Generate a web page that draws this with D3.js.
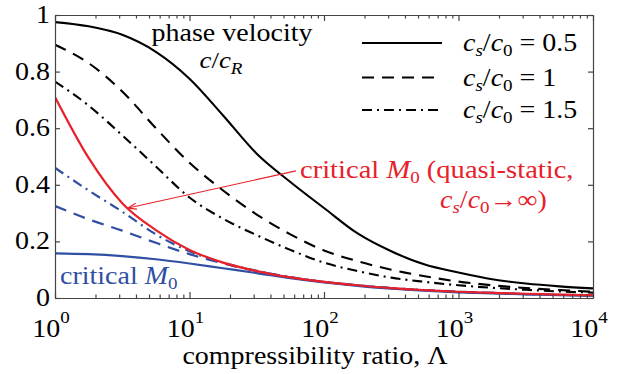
<!DOCTYPE html>
<html><head><meta charset="utf-8">
<script src="https://cdn.jsdelivr.net/npm/d3@7"></script>
<style>body{margin:0;background:#fff}svg{display:block}</style>
</head><body><svg id="c" width="620" height="374"></svg>
<script>
// ---- data ----
const lambda = [1,1.778,3.162,5.623,10,17.78,31.62,56.23,100,177.8,316.2,562.3,1000,1778,3162,5623,10000];
const phaseCs05 = [0.975,0.96,0.93,0.87,0.775,0.645,0.51,0.41,0.318,0.228,0.165,0.118,0.09,0.066,0.051,0.041,0.034];
const phaseCs1  = [0.895,0.83,0.73,0.60,0.478,0.38,0.295,0.225,0.168,0.13,0.10,0.077,0.058,0.045,0.035,0.028,0.022];
const phaseCs15 = [0.765,0.68,0.575,0.465,0.355,0.28,0.222,0.17,0.125,0.095,0.072,0.057,0.045,0.036,0.029,0.023,0.019];
const critQuasiStatic = [0.71,0.495,0.335,0.24,0.17,0.125,0.095,0.073,0.057,0.045,0.035,0.028,0.022,0.018,0.015,0.012,0.01];
const critCs05 = [0.158,0.155,0.148,0.137,0.122,0.105,0.088,0.07,0.055,0.043,0.033,0.026,0.02,0.016,0.013,0.01,0.008];
const critCs1  = [0.325,0.278,0.238,0.195,0.155,0.122,0.095,0.073,0.057,0.045,0.035,0.028,0.022,0.018,0.014,0.011,0.009];
const critCs15 = [0.46,0.38,0.305,0.225,0.165,0.125,0.096,0.074,0.057,0.045,0.035,0.028,0.022,0.018,0.014,0.011,0.009];
const xTicks = [1,10,100,1000,10000];
const xTickExp = ["0","1","2","3","4"];
const yTicks = [0,0.2,0.4,0.6,0.8,1];
const yTickLabels = ["0","0.2","0.4","0.6","0.8","1"];
const legendLabels = ["0.5","1","1.5"];
const arrowFrom = [61.8,0.449];
const arrowTo = [3.49,0.318];

// ---- layout ----
const W=620,H=374, L=55,R=593,T=15,B=298;
const FONT="'Liberation Serif','Times New Roman',serif";
const SX=1.12;
const RED="#e8202a", BLUE="#2f4fa3";
const DASH="12,8", DASHDOT="10,5,2,5";

const svg=d3.select("#c");
const x=d3.scaleLog().domain([1,1e4]).range([L,R]);
const y=d3.scaleLinear().domain([0,1]).range([B,T]);

svg.append("defs").append("clipPath").attr("id","clip")
  .append("rect").attr("x",L).attr("y",T).attr("width",R-L).attr("height",B-T);

const series=[
  {v:critCs05,c:BLUE,d:null,w:2.2},
  {v:critCs1,c:BLUE,d:DASH,w:2.2},
  {v:critCs15,c:BLUE,d:DASHDOT,w:2.2},
  {v:critQuasiStatic,c:RED,d:null,w:2.2},
  {v:phaseCs05,c:"#000",d:null,w:2.1},
  {v:phaseCs1,c:"#000",d:DASH,w:2.1},
  {v:phaseCs15,c:"#000",d:DASHDOT,w:2.1},
];
const line=d3.line().x((d,i)=>x(lambda[i])).y(d=>y(d)).curve(d3.curveMonotoneX);
const g=svg.append("g").attr("clip-path","url(#clip)");
series.forEach(s=>{
  g.append("path").attr("d",line(s.v)).attr("fill","none")
   .attr("stroke",s.c).attr("stroke-width",s.w)
   .attr("stroke-dasharray",s.d);
});

// axes frame and ticks
const axCol="#444";
const minors=[];
for(let e=0;e<4;e++)for(let k=2;k<10;k++)minors.push(k*Math.pow(10,e));
svg.append("g").attr("transform",`translate(0,${B})`)
  .call(d3.axisBottom(x).tickValues(xTicks).tickSizeInner(-6).tickSizeOuter(0).tickFormat(""));
svg.append("g").attr("transform",`translate(0,${B})`)
  .call(d3.axisBottom(x).tickValues(minors).tickSizeInner(-3.5).tickSizeOuter(0).tickFormat(""));
svg.append("g").attr("transform",`translate(0,${T})`)
  .call(d3.axisTop(x).tickValues(xTicks).tickSizeInner(-6).tickSizeOuter(0).tickFormat(""));
svg.append("g").attr("transform",`translate(0,${T})`)
  .call(d3.axisTop(x).tickValues(minors).tickSizeInner(-3.5).tickSizeOuter(0).tickFormat(""));
svg.append("g").attr("transform",`translate(${L},0)`)
  .call(d3.axisLeft(y).tickValues(yTicks).tickSizeInner(-5).tickSizeOuter(0).tickFormat(""));
svg.append("g").attr("transform",`translate(${R},0)`)
  .call(d3.axisRight(y).tickValues(yTicks).tickSizeInner(-5).tickSizeOuter(0).tickFormat(""));
svg.selectAll(".domain,.tick line").attr("stroke",axCol).attr("stroke-width",1.2);

function txt(px,py,anchor,size,col){
  const gg=svg.append("g").attr("transform",`translate(${px},${py}) scale(${SX},1)`);
  return gg.append("text").attr("text-anchor",anchor).attr("font-family",FONT)
    .attr("font-size",size).attr("fill",col||"#000");
}
// y tick labels
yTicks.forEach((t,i)=>{
  txt(L-5,y(t)+8,"end",25).text(yTickLabels[i]);
});
// x tick labels
xTicks.forEach((t,i)=>{
  const tt=txt(x(t)-4,337,"middle",25);
  tt.append("tspan").text("10");
  tt.append("tspan").attr("font-size",17).attr("dy",-14).text(xTickExp[i]);
});
// x axis label
txt(315,364,"middle",25).text("compressibility ratio, Λ");

// phase velocity label
txt(232,41,"middle",25).text("phase velocity");
const cr=txt(221,68,"middle",24);
cr.append("tspan").attr("font-style","italic").text("c");
cr.append("tspan").text("/");
cr.append("tspan").attr("font-style","italic").text("c");
cr.append("tspan").attr("font-style","italic").attr("font-size",17).attr("dy",6).text("R");

// legend
const legDash=[null,DASH,DASHDOT];
const legY=[43,77.5,110];
legendLabels.forEach((lab,i)=>{
  svg.append("line").attr("x1",362).attr("x2",442).attr("y1",legY[i]).attr("y2",legY[i])
    .attr("stroke","#000").attr("stroke-width",2).attr("stroke-dasharray",legDash[i]);
  const t=txt(463,legY[i]+8,"start",25);
  t.append("tspan").attr("font-style","italic").text("c");
  t.append("tspan").attr("font-style","italic").attr("font-size",17).attr("dy",5).text("s");
  t.append("tspan").attr("dy",-5).text("/");
  t.append("tspan").attr("font-style","italic").text("c");
  t.append("tspan").attr("font-size",17).attr("dy",5).text("0");
  t.append("tspan").attr("dy",-5).text(" = "+lab);
});

// red annotation
const r1=txt(300,178,"start",25.5,RED);
r1.append("tspan").text("critical ");
r1.append("tspan").attr("font-style","italic").text("M");
r1.append("tspan").attr("font-size",17).attr("dy",5).text("0");
r1.append("tspan").attr("dy",-5).text(" (quasi-static,");
const r2=txt(440,208,"start",25,RED);
r2.append("tspan").attr("font-style","italic").text("c");
r2.append("tspan").attr("font-style","italic").attr("font-size",17).attr("dy",5).text("s");
r2.append("tspan").attr("dy",-5).text("/");
r2.append("tspan").attr("font-style","italic").text("c");
r2.append("tspan").attr("font-size",17).attr("dy",5).text("0");
r2.append("tspan").attr("dy",-5).text("→∞)");

// arrow
const ax1=x(arrowFrom[0]),ay1=y(arrowFrom[1]),ax2=x(arrowTo[0]),ay2=y(arrowTo[1]);
svg.append("line").attr("x1",ax1).attr("y1",ay1).attr("x2",ax2).attr("y2",ay2)
  .attr("stroke",RED).attr("stroke-width",1.2);
const ang=Math.atan2(ay1-ay2,ax1-ax2);
const hl=9,ha=0.35;
svg.append("path").attr("d",`M${ax2+hl*Math.cos(ang+ha)},${ay2+hl*Math.sin(ang+ha)}L${ax2},${ay2}L${ax2+hl*Math.cos(ang-ha)},${ay2+hl*Math.sin(ang-ha)}`)
  .attr("fill","none").attr("stroke",RED).attr("stroke-width",1.2);

// blue label
const bl=txt(60,284,"start",25,BLUE);
bl.append("tspan").text("critical ");
bl.append("tspan").attr("font-style","italic").text("M");
bl.append("tspan").attr("font-size",17).attr("dy",5).text("0");
</script></body></html>
